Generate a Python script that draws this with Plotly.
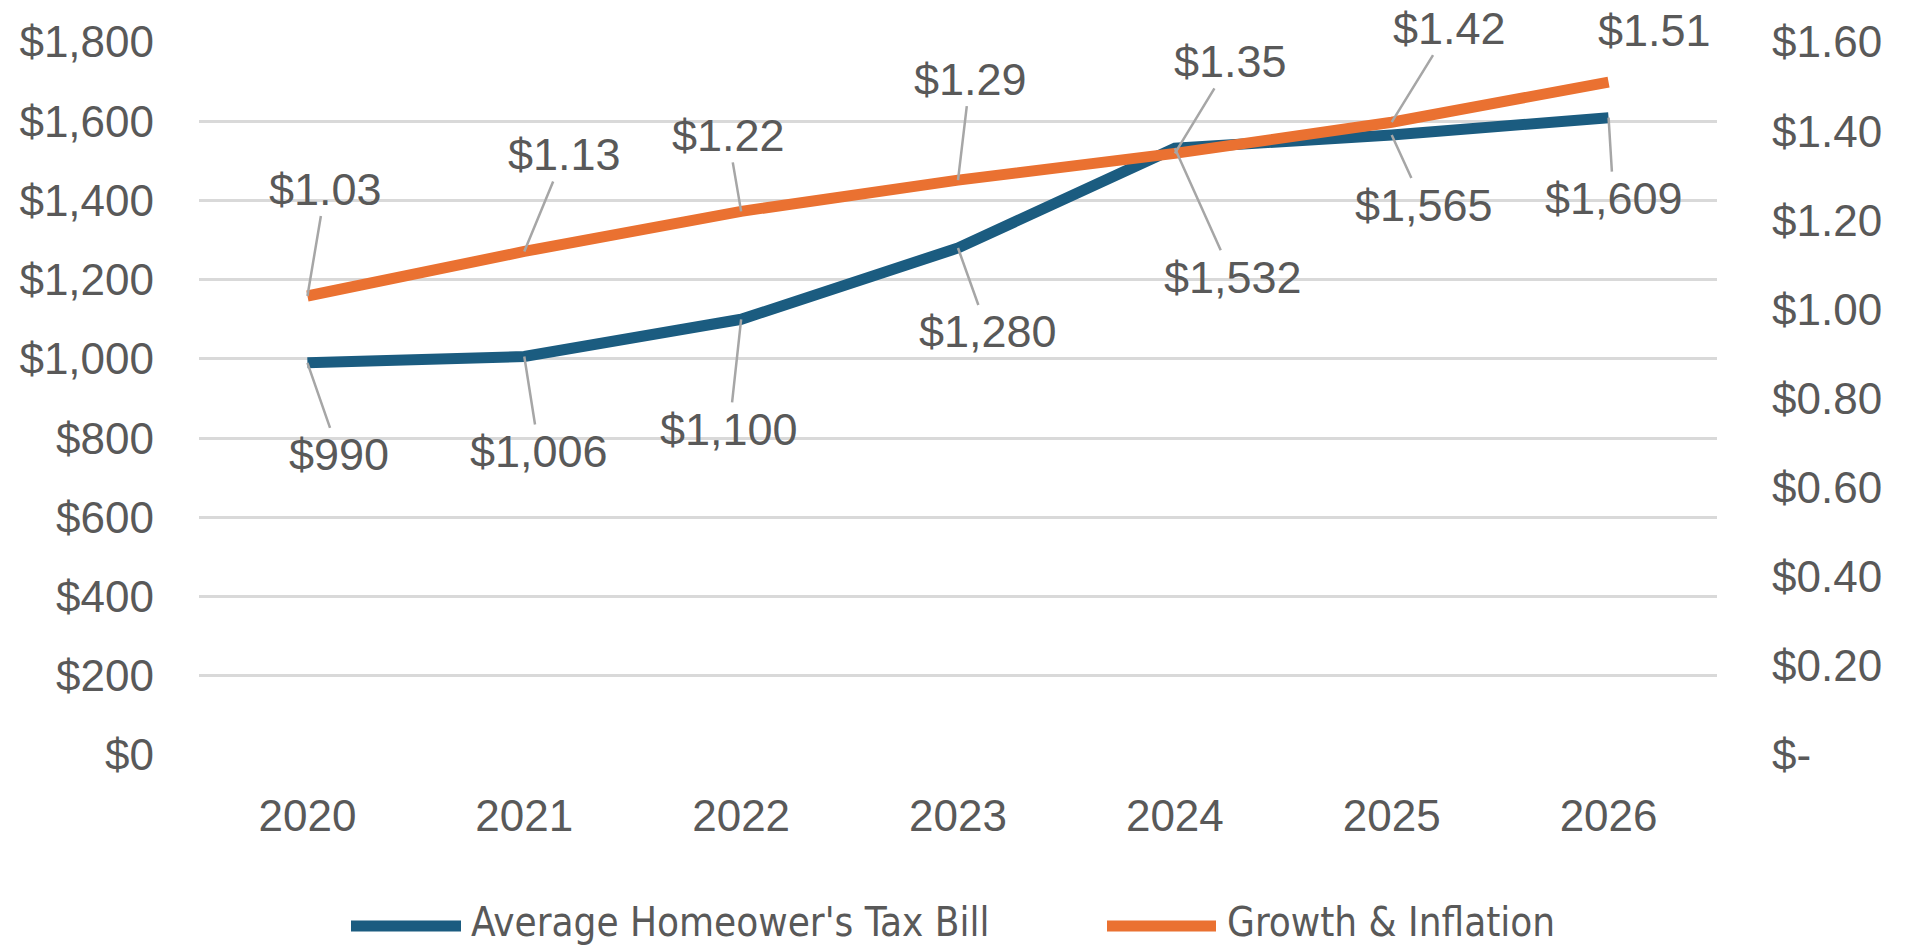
import plotly.graph_objects as go

# ---- data ----
years = ["2020", "2021", "2022", "2023", "2024", "2025", "2026"]
tax_bill = [990, 1006, 1100, 1280, 1532, 1565, 1609]
growth_inflation = [1.03, 1.13, 1.22, 1.29, 1.35, 1.42, 1.51]
left_ticks = [0, 200, 400, 600, 800, 1000, 1200, 1400, 1600, 1800]
left_tick_labels = ["$0", "$200", "$400", "$600", "$800", "$1,000", "$1,200", "$1,400", "$1,600", "$1,800"]
right_ticks = [0, 0.2, 0.4, 0.6, 0.8, 1.0, 1.2, 1.4, 1.6]
right_tick_labels = ["$-", "$0.20", "$0.40", "$0.60", "$0.80", "$1.00", "$1.20", "$1.40", "$1.60"]
series_names = ["Average Homeower's Tax Bill", "Growth & Inflation"]

# ---- styling / layout ----
W, H = 1911, 949
ML, MR, MT, MB = 199, 194, 42, 194
BLUE = "#1B5C80"
ORANGE = "#EA7131"
GRAY_TXT = "#595959"
GRID = "#D9D9D9"
LEADER = "#A6A6A6"
FONT = "Liberation Sans, Arial, sans-serif"
TICK_SIZE = 44
LABEL_SIZE = 45

# label offsets (px, text centre relative to point)
blue_offsets = [(32, 92), (15, 95), (-12, 110), (30, 84), (58, 129), (32, 70), (5, 81)]
orange_offsets = [(18, -107), (40, -97), (-13, -76), (12, -101), (56, -92), (58, -94), (46, -52)]
orange_leader = [True, True, True, True, True, True, False]

fig = go.Figure()
fig.add_trace(go.Scatter(x=years, y=tax_bill, mode="lines", name=series_names[0],
                         line=dict(color=BLUE, width=11), yaxis="y", showlegend=False))
fig.add_trace(go.Scatter(x=years, y=growth_inflation, mode="lines", name=series_names[1],
                         line=dict(color=ORANGE, width=11), yaxis="y2", showlegend=False))

annotations = []
for i, v in enumerate(tax_bill):
    ax, ay = blue_offsets[i]
    annotations.append(dict(x=i, y=v, xref="x", yref="y", text=f"${v:,.0f}",
                            showarrow=True, arrowhead=0, arrowwidth=2.5, arrowcolor=LEADER,
                            ax=ax, ay=ay, standoff=0,
                            font=dict(family=FONT, size=LABEL_SIZE, color=GRAY_TXT)))
for i, v in enumerate(growth_inflation):
    ax, ay = orange_offsets[i]
    if orange_leader[i]:
        annotations.append(dict(x=i, y=v, xref="x", yref="y2", text=f"${v:.2f}",
                                showarrow=True, arrowhead=0, arrowwidth=2.5, arrowcolor=LEADER,
                                ax=ax, ay=ay, standoff=0,
                                font=dict(family=FONT, size=LABEL_SIZE, color=GRAY_TXT)))
    else:
        annotations.append(dict(x=i, y=v, xref="x", yref="y2", text=f"${v:.2f}",
                                showarrow=False, xshift=ax, yshift=-ay,
                                font=dict(family=FONT, size=LABEL_SIZE, color=GRAY_TXT)))

# manual legend
pw = W - ML - MR
ph = H - MT - MB
def px_x(p):
    return (p - ML) / pw
def px_y(p):
    return (H - MB - p) / ph

legend_y = px_y(922)
shapes = []
for (x0, x1, col, tx, name) in [(351, 461, BLUE, 469, series_names[0]),
                                (1107, 1216, ORANGE, 1225, series_names[1])]:
    shapes.append(dict(type="line", xref="paper", yref="paper",
                       x0=px_x(x0), x1=px_x(x1), y0=px_y(926), y1=px_y(926),
                       line=dict(color=col, width=11)))
    annotations.append(dict(xref="paper", yref="paper", x=px_x(tx), y=legend_y,
                            xanchor="left", yanchor="middle", showarrow=False, text=name,
                            font=dict(family="Liberation Sans Narrow, DejaVu Sans Condensed, Arial Narrow, sans-serif",
                                      size=40, color=GRAY_TXT)))

fig.update_layout(
    width=W, height=H, autosize=False,
    margin=dict(l=ML, r=MR, t=MT, b=MB),
    paper_bgcolor="white", plot_bgcolor="white",
    font=dict(family=FONT, size=TICK_SIZE, color=GRAY_TXT),
    xaxis=dict(type="category", range=[-0.5, 6.5], showgrid=False, showline=False,
               zeroline=False, ticks="", tickfont=dict(size=TICK_SIZE, color=GRAY_TXT),
               ticklabelstandoff=31),
    yaxis=dict(range=[0, 1800], tickvals=left_ticks, ticktext=left_tick_labels,
               showgrid=True, gridcolor=GRID, gridwidth=3, zeroline=False, showline=False,
               ticks="", tickfont=dict(size=TICK_SIZE, color=GRAY_TXT), ticklabelstandoff=44),
    yaxis2=dict(range=[0, 1.6], overlaying="y", side="right", tickvals=right_ticks,
                ticktext=right_tick_labels, showgrid=False, zeroline=False, showline=False,
                ticks="", tickfont=dict(size=TICK_SIZE, color=GRAY_TXT), ticklabelstandoff=54),
    annotations=annotations,
    shapes=shapes,
    showlegend=False,
)

fig.write_html("out.html", config={"displayModeBar": False},
               post_script="document.body.style.margin='0';document.body.style.overflow='hidden';")
